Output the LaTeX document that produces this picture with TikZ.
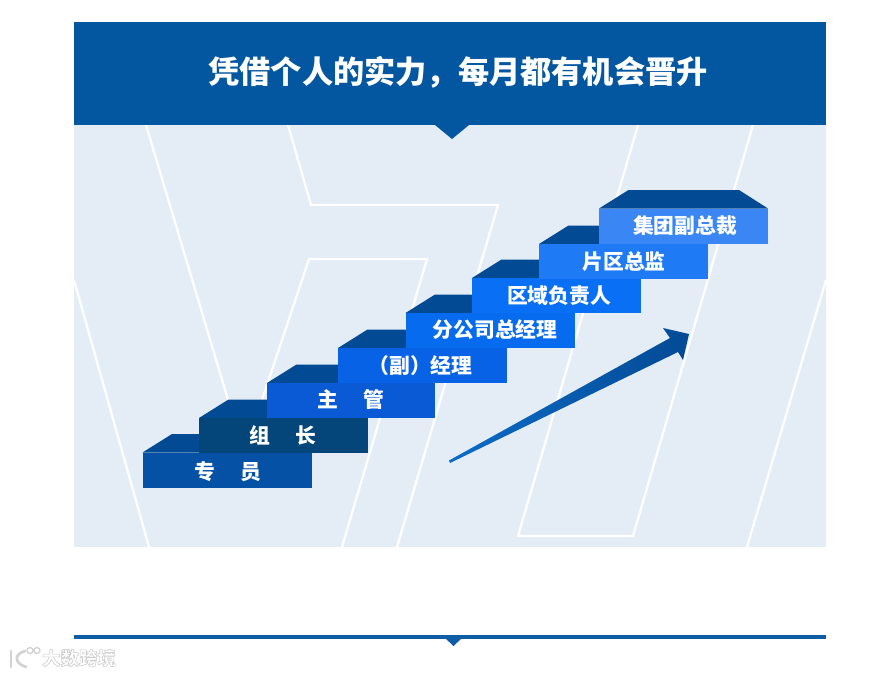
\documentclass[tikz,border=0pt]{standalone}
\usepackage{fontspec}
\usepackage{xcolor}
\setmainfont{Noto Sans CJK SC}
\definecolor{headblue}{RGB}{3,86,160}
\definecolor{panelblue}{RGB}{228,236,245}
\definecolor{topblue}{RGB}{3,74,148}
\definecolor{linkblue}{RGB}{10,108,200}
\definecolor{ruleblue}{RGB}{15,94,165}
\definecolor{stepa}{RGB}{4,81,166}
\definecolor{stepb}{RGB}{4,70,122}
\definecolor{stepc}{RGB}{9,90,212}
\definecolor{stepd}{RGB}{7,98,230}
\definecolor{stepe}{RGB}{7,107,240}
\definecolor{stepf}{RGB}{9,112,245}
\definecolor{stepg}{RGB}{30,122,245}
\definecolor{steph}{RGB}{58,134,245}
\definecolor{markgray}{RGB}{210,210,210}
\tikzset{
    bgline/.style={white, line width=1.7pt},
    steplabel/.style={white, font=\fontsize{15.6}{18}\selectfont\bfseries, inner sep=0pt},
    markline/.style={markgray, line width=2pt, line cap=round},
}
\begin{document}
\begin{tikzpicture}[x=0.75pt, y=-0.75pt]
    \useasboundingbox (0,0) rectangle (888,675);
    % panel
    \fill[panelblue] (74,125) rectangle (826,547);
    % white background lines
    \draw[bgline] (74,280) -- (149,547);
    \draw[bgline] (146,125) -- (240,440);
    \draw[bgline] (288,125) -- (311,205) -- (498,205) -- (397,547);
    \draw[bgline] (262,400) -- (309,259) -- (427,259) -- (342,547);
    \draw[bgline] (638,125) -- (518,536) -- (633,536) -- (753,125);
    \draw[bgline] (826,280) -- (747,547);
    % header
    \fill[headblue] (74,22) rectangle (826,125);
    \fill[headblue] (435,125) -- (452,139) -- (469,125) -- cycle;
    \node[white, font=\fontsize{23.4}{28}\selectfont\bfseries, inner sep=0pt] (title) at (458,72.5) {凭借个人的实力，每月都有机会晋升};
    % steps
    \foreach \nm/\xa/\xb/\ya/\xe/\tx/\ty/\col/\lbl in {
        zhuanyuan/142.5/312/452.5/200/228/472/stepa/{专\hspace{18.5pt}员},
        zuzhang/199/368/418/268/283/435.5/stepb/{组\hspace{18.5pt}长},
        zhuguan/267/435/383/339/351/400/stepc/{主\hspace{18.5pt}管},
        jingli/338/507/348/406/420.5/365.5/stepd/{（副）经理},
        fengongsi/405.5/575/313/473/495/330/stepe/{分公司总经理},
        quyu/472/641/278/540/559/296/stepf/{区域负责人},
        pianqu/539/708/244/600/624/261.5/stepg/{片区总监},
        jituan/599/768/208.5/739/685/226/steph/{集团副总裁}} {
        \fill[topblue] (\xa,\ya) -- (\xa+29.5,\ya-18.5) -- (\xe,\ya-18.5) -- (\xe,\ya) -- cycle;
        \fill[\col] (\xa,\ya) rectangle (\xb,\ya+35);
        \node[steplabel] (\nm) at (\tx,\ty) {\lbl};
    }
    \fill[topblue] (739,190) -- (768,208.5) -- (739,208.5) -- cycle;
    % rising arrow
    \shade[left color=linkblue, right color=topblue] (449,460.5) -- (670,338) -- (663,328) -- (689,334) -- (683,360) -- (678,352) -- (450,463) -- cycle;
    % bottom rule
    \fill[ruleblue] (74,634.5) rectangle (826,638.5);
    \fill[ruleblue] (445,638) -- (453.5,646) -- (462,638) -- cycle;
    % watermark
    \draw[markline] (11,651) -- (11,667);
    \draw[markline] (25,651) .. controls (14,654) and (14,663) .. (26,667);
    \draw[markgray, line width=1pt] (30,650.5) circle (3) (37,650.5) circle (3);
    \node[white, font=\fontsize{13.8}{16}\selectfont\bfseries, inner sep=0pt] (mark) at (79,658) {\special{pdf:code 2 Tr 0.45 w 0.8 G}大数跨境\special{pdf:code 0 Tr}};
\end{tikzpicture}
\end{document}
